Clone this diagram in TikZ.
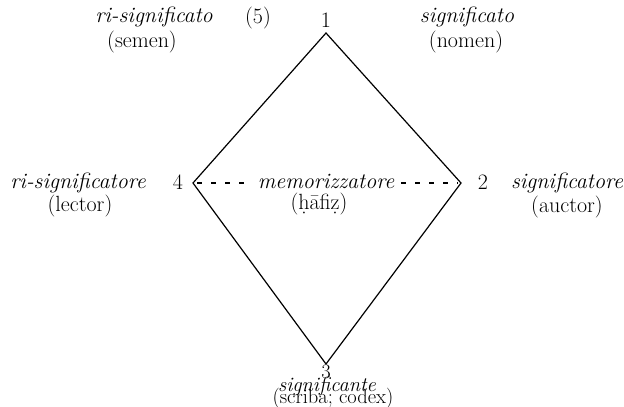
\documentclass[tikz,border=0pt]{standalone}
\usepackage{fontspec}
\begin{document}
\begin{tikzpicture}[x=1pt,y=-1pt,
  lbl/.style={inner sep=0pt,anchor=base,font=\fontsize{22}{24}\selectfont},
  ilbl/.style={inner sep=0pt,anchor=base,font=\fontsize{22}{24}\selectfont\itshape},
  slbl/.style={inner sep=0pt,anchor=base,font=\fontsize{20.5}{22}\selectfont},
  silbl/.style={inner sep=0pt,anchor=base,font=\fontsize{20.5}{22}\selectfont\itshape},
  edge/.style={line width=1.2pt,line join=miter},
  dsh/.style={line width=1.1pt,dash pattern=on 5pt off 9pt}]
\useasboundingbox (0,0) rectangle (624,407);
\coordinate (v1) at (326,33);
\coordinate (v2) at (461,183);
\coordinate (v3) at (326,364);
\coordinate (v4) at (193,183);
\coordinate (dl1) at (197,183);
\coordinate (dl2) at (252,183);
\coordinate (dr1) at (401,183);
\coordinate (dr2) at (458,183);
\draw[edge] (v1) -- (v2) -- (v3) -- (v4) -- cycle;
\node[ilbl] (mem) at (326,188) {memorizzatore};
\node[lbl] (haf) at (319,209) {(ḥāfiẓ)};
\draw[dsh] (dl1) -- (dl2);
\draw[dsh] (dr1) -- (dr2);
\node[lbl] (n1) at (326,27) {1};
\node[lbl] (n5) at (258,23) {(5)};
\node[ilbl] (ris) at (154,22) {ri-significato};
\node[lbl] (sem) at (142,47) {(semen)};
\node[ilbl] (sig) at (467,22) {significato};
\node[lbl] (nom) at (466,47) {(nomen)};
\node[lbl] (n4) at (178,189) {4};
\node[ilbl] (risr) at (78,188) {ri-significatore};
\node[lbl] (lec) at (80,211) {(lector)};
\node[lbl] (n2) at (483,189) {2};
\node[ilbl] (sigr) at (567,188) {significatore};
\node[lbl] (auc) at (567,212) {(auctor)};
\node[slbl] (n3) at (326,378) {3};
\node[silbl] (sigc) at (327,391) {significante};
\node[slbl] (scr) at (333,403) {(scriba; codex)};
\end{tikzpicture}
\end{document}
